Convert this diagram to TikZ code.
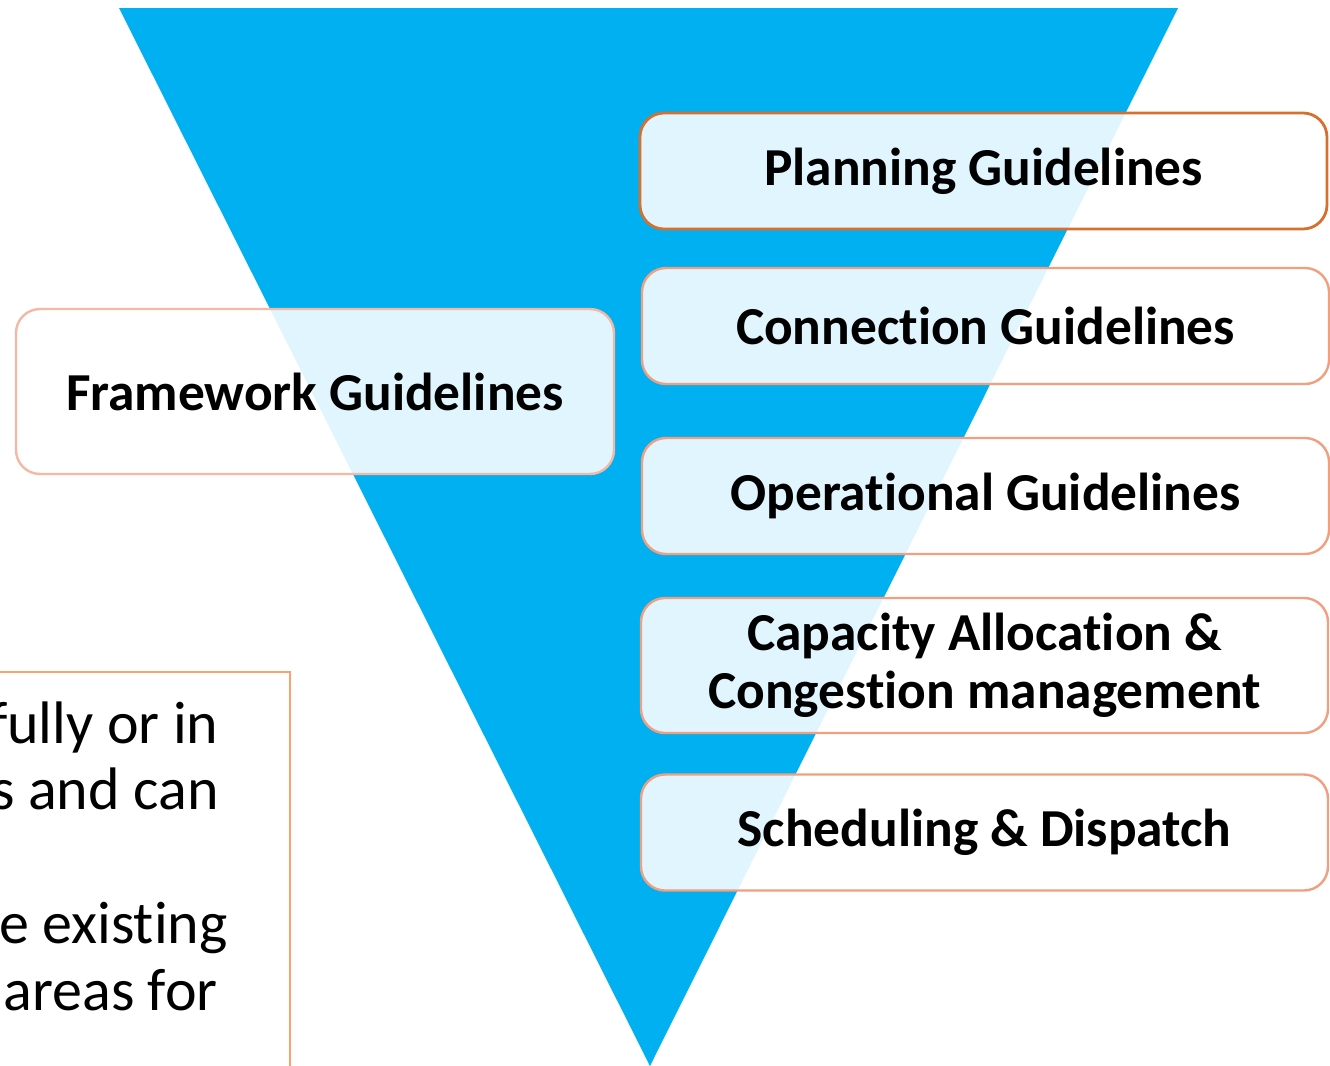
\documentclass[tikz,border=0pt]{standalone}
\usepackage{fontspec}
\setmainfont{Carlito}[Ligatures=NoCommon]
\usetikzlibrary{positioning}
\definecolor{funnelcolor}{RGB}{0, 176, 240}
\definecolor{edgecolor}{RGB}{240, 160, 128}
\definecolor{lightedgecolor}{RGB}{244, 184, 164}
\definecolor{darkedgecolor}{RGB}{214, 112, 46}
\definecolor{notecolor}{RGB}{244, 164, 110}

\begin{document}
\begin{tikzpicture}[x=0.5pt, y=-0.5pt,
                guide/.style={rectangle, rounded corners=12pt, draw=edgecolor, line width=1.2pt,
                              fill=white, fill opacity=0.88, text opacity=1, inner sep=0pt,
                              minimum width=343.5pt, minimum height=58pt, align=center,
                              font=\fontsize{26.7}{29}\selectfont\bfseries},
                note/.style={anchor=base east, inner sep=0pt, font=\fontsize{30}{34}\selectfont}]

                \clip (0,0) rectangle (1330,1066);

                % Funnel
                \fill[funnelcolor] (119,8) -- (1178,8) -- (650,1066) -- cycle;

                % Framework
                \node[guide, draw=lightedgecolor, minimum width=299pt, minimum height=82.5pt] (framework) at (315,391.5) {Framework Guidelines};

                % Guidelines
                \node[guide, draw=darkedgecolor, line width=1.4pt] (planning) at (983.5,171) {Planning Guidelines};
                \node[guide] (connection) at (985.5,326) {Connection Guidelines};
                \node[guide] (operational) at (985.5,496) {Operational Guidelines};
                \node[guide, minimum height=67.5pt] (capacity) at (984.5,665.5) {Capacity Allocation \&\\Congestion management};
                \node[guide] (scheduling) at (984.5,832.5) {Scheduling \& Dispatch};

                % Note
                \coordinate (notetop) at (-10,672);
                \coordinate (notecorner) at (290,672);
                \coordinate (notebottom) at (290,1080);
                \draw[notecolor, line width=0.8pt] (notetop) -- (notecorner) -- (notebottom);
                \node[note] (line1) at (219,743) {fully or in};
                \node[note] (line2) at (219,809) {s and can};
                \node[note] (line3) at (228,943) {e existing};
                \node[note] (line4) at (218,1010) {areas for};

            \end{tikzpicture}
\end{document}
